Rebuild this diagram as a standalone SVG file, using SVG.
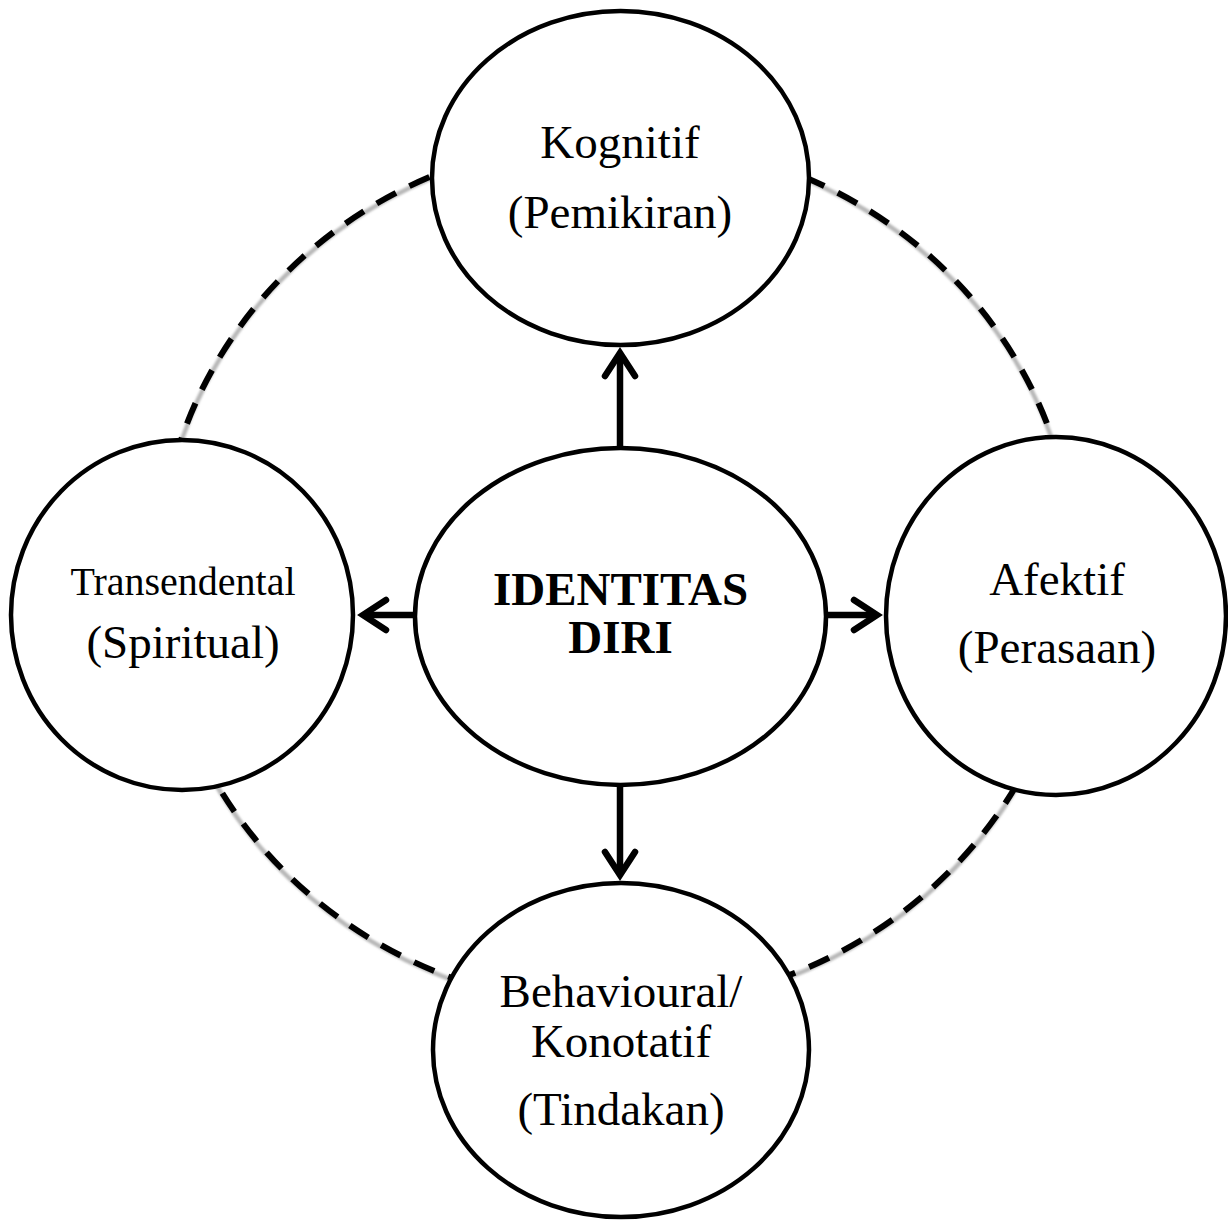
<svg xmlns="http://www.w3.org/2000/svg" width="1228" height="1220" viewBox="0 0 1228 1220">
  <defs>
    <style>
      .node { fill: #ffffff; stroke: #000000; stroke-width: 4.5; }
      .label { font-family: "Liberation Serif", "Times New Roman", serif; font-size: 47px; fill: #000000; text-anchor: middle; }
      .small { font-size: 40px; }
      .bold { font-weight: bold; }
      .ring { fill: none; stroke: #000000; stroke-width: 6; stroke-dasharray: 22 15; }
      .ring-shadow { fill: none; stroke: #b8b8b8; stroke-width: 4.5; }
      .arrow { fill: none; stroke: #000000; stroke-width: 6.5; marker-end: url(#chevron); }
    </style>
    <marker id="chevron" markerUnits="userSpaceOnUse" viewBox="-40 -25 50 50" refX="-8" refY="0" markerWidth="50" markerHeight="50" orient="auto" overflow="visible">
      <path d="M-29,-15 L-6,0 L-29,15" fill="none" stroke="#000000" stroke-width="6.5" stroke-linecap="round" stroke-linejoin="miter" stroke-miterlimit="10"/>
    </marker>
    <filter id="soft" x="-10%" y="-10%" width="120%" height="120%">
      <feGaussianBlur stdDeviation="1.3"/>
    </filter>
  </defs>

  <rect width="1228" height="1220" fill="#ffffff"/>

  <!-- dashed ring linking the four outer nodes, plus the arrows from the centre -->
  <g id="connectors">
    <g id="ring">
      <ellipse class="ring-shadow" cx="617" cy="575" rx="458" ry="434" filter="url(#soft)"/>
      <ellipse class="ring" cx="617" cy="573" rx="458" ry="434"/>
    </g>
    <line class="arrow" x1="620" y1="448" x2="620" y2="355"/>
    <line class="arrow" x1="415" y1="615" x2="365" y2="615"/>
    <line class="arrow" x1="826" y1="615" x2="875" y2="615"/>
    <line class="arrow" x1="620" y1="785" x2="620" y2="873"/>
  </g>

  <g id="node-kognitif">
    <ellipse class="node" cx="620.5" cy="178" rx="188.5" ry="167"/>
    <text class="label" x="620" y="158">Kognitif</text>
    <text class="label" x="620" y="228">(Pemikiran)</text>
  </g>

  <g id="node-transendental">
    <ellipse class="node" cx="182" cy="615" rx="171" ry="175"/>
    <text class="label small" x="183" y="595">Transendental</text>
    <text class="label" x="183" y="658">(Spiritual)</text>
  </g>

  <g id="node-afektif">
    <ellipse class="node" cx="1056" cy="616" rx="170" ry="179"/>
    <text class="label" x="1057" y="595">Afektif</text>
    <text class="label" x="1057" y="663">(Perasaan)</text>
  </g>

  <g id="node-identitas">
    <ellipse class="node" cx="620.5" cy="616.5" rx="205.5" ry="168.5"/>
    <text class="label bold" x="620.5" y="605">IDENTITAS</text>
    <text class="label bold" x="620.5" y="653">DIRI</text>
  </g>

  <g id="node-behavioural">
    <ellipse class="node" cx="621" cy="1050" rx="188" ry="167"/>
    <text class="label" x="621" y="1007">Behavioural/</text>
    <text class="label" x="621" y="1057">Konotatif</text>
    <text class="label" x="621" y="1125">(Tindakan)</text>
  </g>
</svg>
